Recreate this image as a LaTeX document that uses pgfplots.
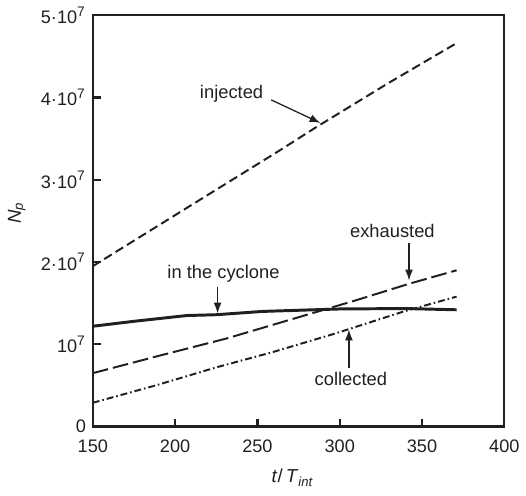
\documentclass[border=0pt]{standalone}
\usepackage{fontspec}
\setmainfont{Liberation Sans}
\usepackage{pgfplots}
\pgfplotsset{compat=1.18}
\usetikzlibrary{arrows.meta}
\definecolor{ink}{RGB}{35,31,32}
\begin{document}
\begin{tikzpicture}
\begin{axis}[
  scale only axis, width=208.75pt, height=208.75pt,
  xmin=150, xmax=400, ymin=0, ymax=5e7,
  clip=false,
  axis line style={line width=1.2pt, ink},
  tick pos=left, tick align=inside, major tick length=4pt,
  every tick/.style={line width=1.1pt, ink},
  xtick={150,200,250,300,350,400},
  xticklabels={150,200,250,300,350,400},
  ytick={0,1e7,2e7,3e7,4e7,5e7},
  yticklabels={0,10\textsuperscript{\fontsize{7}{8}\selectfont 7},2·10\textsuperscript{\fontsize{7}{8}\selectfont 7},3·10\textsuperscript{\fontsize{7}{8}\selectfont 7},4·10\textsuperscript{\fontsize{7}{8}\selectfont 7},5·10\textsuperscript{\fontsize{7}{8}\selectfont 7}},
  scaled y ticks=false, scaled x ticks=false,
  tick label style={font=\fontsize{9.2}{10}\selectfont, text=ink},
  xticklabel style={yshift=-3pt},
  xlabel={\textit{t}/\,\textit{T}\textsubscript{\textit{int}}},
  ylabel={\textit{N}\textsubscript{\textit{p}}},
  label style={font=\fontsize{9.5}{11}\selectfont, text=ink},
  xlabel style={at={(axis description cs:0.4857,0)}, anchor=center, yshift=-26pt},
  ylabel style={at={(axis description cs:-0.185,0.52)}, anchor=center},
]
% bounding box
\path (rel axis cs:-0.2256,-0.1665) rectangle (rel axis cs:1.0343,1.0343);

% injected
\addplot[ink, line width=1pt, dash pattern=on 4.5pt off 2.3pt] coordinates {
(150,1.95e7) (200,2.57e7) (263,3.35e7) (285,3.63e7) (330,4.18e7) (371,4.66e7)};
% in the cyclone
\addplot[ink, line width=1.5pt] coordinates {
(150,1.22e7) (175,1.28e7) (207,1.35e7) (225,1.36e7) (253,1.40e7) (300,1.43e7) (340,1.435e7) (371,1.42e7)};
% exhausted
\addplot[ink, line width=1pt, dash pattern=on 8pt off 2.5pt] coordinates {
(150,0.65e7) (190,0.86e7) (231,1.07e7) (270,1.30e7) (309,1.53e7) (342,1.735e7) (371,1.90e7)};
% collected
\addplot[ink, line width=1pt, dash pattern=on 3.5pt off 1.5pt on 0.8pt off 1.5pt] coordinates {
(150,0.29e7) (188,0.50e7) (225,0.72e7) (260,0.91e7) (297,1.13e7) (339,1.40e7) (371,1.58e7)};

% annotations
\tikzset{ann/.style={font=\fontsize{9.3}{11}\selectfont, text=ink, inner sep=0pt},
         arr/.style={ink, line width=0.65pt, -{Latex[length=5.5pt,width=4pt]}}}
\node[ann] at (axis cs:234.3,4.04e7) {injected};
\draw[arr] (axis cs:258.4,3.97e7) -- (axis cs:288.3,3.69e7);
\node[ann] at (axis cs:229.4,1.86e7) {in the cyclone};
\draw[arr] (axis cs:225.8,1.70e7) -- (axis cs:225.8,1.376e7);
\node[ann] at (axis cs:332.0,2.38e7) {exhausted};
\draw[arr] (axis cs:342.1,2.235e7) -- (axis cs:342.1,1.776e7);
\node[ann] at (axis cs:306.8,0.575e7) {collected};
\draw[arr] (axis cs:305.6,0.713e7) -- (axis cs:305.6,1.18e7);
\end{axis}
\end{tikzpicture}
\end{document}
